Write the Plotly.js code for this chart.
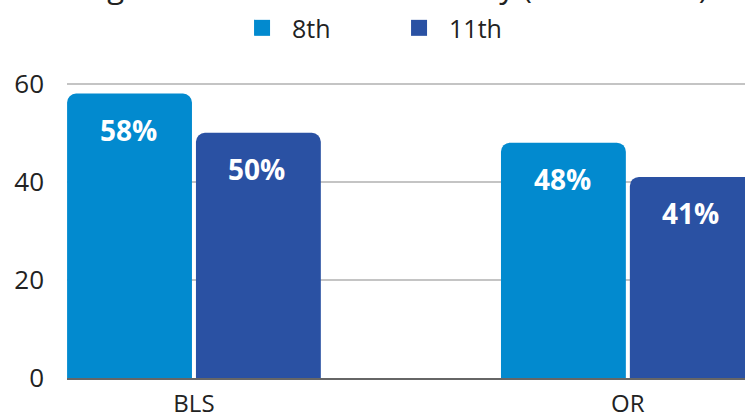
<!DOCTYPE html>
<html>
<head>
<meta charset="utf-8">
<script src="https://cdn.plot.ly/plotly-3.0.1.min.js"></script>
<style>html,body{margin:0;padding:0;background:#fff;}#chart{width:745px;height:420px;}</style>
</head>
<body>
<div id="chart"></div>
<script>
var categories = ["BLS", "OR"];
var grade8 = [58, 48];
var grade11 = [50, 41];
var seriesNames = ["8th", "11th"];
var titleText = "Using school counselors - Survey (all students)";

var colors = ["#028acf", "#2a51a3"];
var idx = categories.map(function (c, i) { return i; });

var traces = [
  {type: "bar", x: idx, y: grade8, name: seriesNames[0], marker: {color: colors[0], cornerradius: 9}, showlegend: false, hoverinfo: "skip"},
  {type: "bar", x: idx, y: grade11, name: seriesNames[1], marker: {color: colors[1], cornerradius: 9}, showlegend: false, hoverinfo: "skip"},
  {type: "scatter", mode: "markers", x: [null], y: [null], name: seriesNames[0], marker: {symbol: "square", size: 18, color: colors[0]}},
  {type: "scatter", mode: "markers", x: [null], y: [null], name: seriesNames[1], marker: {symbol: "square", size: 18, color: colors[1]}}
];

var annotations = [];
[grade8, grade11].forEach(function (vals, s) {
  vals.forEach(function (v, i) {
    annotations.push({
      x: idx[i], y: v, xref: "x", yref: "y",
      xshift: s === 0 ? -65 : 63, yshift: -36,
      yanchor: "middle", showarrow: false,
      text: v + "%",
      font: {family: "Open Sans", size: 28, color: "#ffffff", weight: 700}
    });
  });
});
annotations.push({
  x: 0.455, y: 1.215, xref: "paper", yref: "paper",
  xanchor: "center", yanchor: "bottom", showarrow: false,
  text: titleText,
  font: {family: "Open Sans", size: 31, color: "#222222"}
});

var layout = {
  width: 745, height: 420,
  margin: {l: 67, r: 0, t: 74, b: 42},
  paper_bgcolor: "#ffffff", plot_bgcolor: "#ffffff",
  barmode: "group", bargap: 0.406, bargroupgap: 0.031,
  font: {family: "Open Sans", color: "#222222"},
  showlegend: true,
  legend: {orientation: "h", x: 0.475, xanchor: "center", y: 1.151, yanchor: "middle",
           font: {size: 25, color: "#222222"}, itemwidth: 50, entrywidth: 92, entrywidthmode: "pixels",
           bgcolor: "rgba(0,0,0,0)"},
  xaxis: {
    type: "linear", range: [-0.2926, 1.27],
    tickvals: idx, ticktext: categories,
    tickfont: {size: 24, color: "#222222"},
    showgrid: false, zeroline: false,
    showline: true, linecolor: "#666666", linewidth: 2,
    ticks: "", ticklabelstandoff: 3
  },
  yaxis: {
    range: [0, 62], tickvals: [0, 20, 40, 60],
    tickfont: {size: 26, color: "#222222"},
    gridcolor: "#c4c4c4", gridwidth: 2,
    zeroline: false, showline: false,
    ticks: "", ticklabelstandoff: 22
  },
  annotations: annotations
};

Plotly.newPlot("chart", traces, layout, {displayModeBar: false, staticPlot: true});
</script>
</body>
</html>
